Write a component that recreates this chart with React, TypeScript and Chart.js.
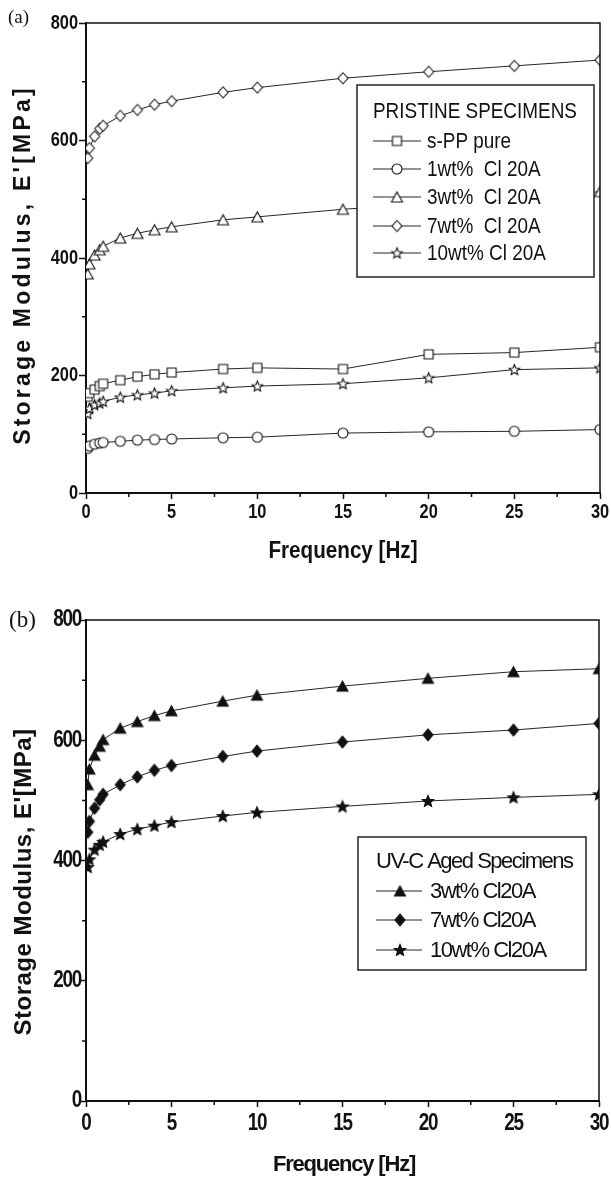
import React, { useEffect, useRef } from 'react';
import { Chart, registerables } from 'chart.js';

Chart.register(...registerables);

// ---------- data ----------
const frequencies = [0.1, 0.2, 0.5, 0.8, 1, 2, 3, 4, 5, 8, 10, 15, 20, 25, 30];

const pristineLabels = ['s-PP pure', '1wt%  Cl 20A', '3wt%  Cl 20A', '7wt%  Cl 20A', '10wt% Cl 20A'];
const pristineSPP = [164, 170, 176, 182, 186, 192, 198, 202, 205, 211, 213, 211, 236, 239, 248];
const pristine1wt = [76, 80, 83, 85, 86, 88, 90, 91, 92, 94, 95, 102, 104, 105, 108];
const pristine3wt = [373, 390, 405, 414, 420, 434, 442, 448, 453, 465, 470, 483, 492, 500, 513];
const pristine7wt = [570, 587, 607, 620, 625, 642, 652, 661, 667, 682, 690, 706, 717, 727, 737];
const pristine10wt = [135, 144, 150, 153, 156, 163, 167, 170, 174, 179, 182, 186, 196, 210, 213];

const agedLabels = ['3wt% Cl20A', '7wt% Cl20A', '10wt% Cl20A'];
const aged3wt = [526, 552, 575, 590, 601, 620, 631, 641, 649, 665, 675, 690, 703, 714, 719];
const aged7wt = [447, 465, 487, 501, 510, 526, 539, 550, 558, 573, 582, 597, 609, 617, 628];
const aged10wt = [389, 402, 418, 426, 431, 444, 452, 458, 464, 474, 480, 490, 499, 505, 510];

const xMin = 0;
const xMax = 30;
const xStep = 5;
const yMin = 0;
const yMax = 800;
const yStep = 200;
const xMinorTicks = [2.5, 7.5, 12.5, 17.5, 22.5, 27.5];
const yMinorTicks = [100, 300, 500, 700];

const xTitle = 'Frequency [Hz]';
const yTitle = "Storage Modulus, E'[MPa]";
const pristineTitle = 'PRISTINE SPECIMENS';
const agedTitle = 'UV-C Aged Specimens';

// ---------- helpers ----------
type Shape = 'square' | 'circle' | 'triangle' | 'diamond' | 'star';

function makeMarker(shape: Shape, filled: boolean, w: number, h: number): HTMLCanvasElement {
  const pad = 2;
  const c = document.createElement('canvas');
  c.width = Math.ceil(w + pad * 2);
  c.height = Math.ceil(h + pad * 2);
  const ctx = c.getContext('2d')!;
  const cx = c.width / 2;
  const cy = c.height / 2;
  ctx.beginPath();
  if (shape === 'square') {
    ctx.rect(cx - w / 2, cy - h / 2, w, h);
  } else if (shape === 'circle') {
    ctx.ellipse(cx, cy, w / 2, h / 2, 0, 0, Math.PI * 2);
  } else if (shape === 'triangle') {
    ctx.moveTo(cx, cy - h / 2);
    ctx.lineTo(cx + w / 2, cy + h / 2);
    ctx.lineTo(cx - w / 2, cy + h / 2);
    ctx.closePath();
  } else if (shape === 'diamond') {
    ctx.moveTo(cx, cy - h / 2);
    ctx.lineTo(cx + w / 2, cy);
    ctx.lineTo(cx, cy + h / 2);
    ctx.lineTo(cx - w / 2, cy);
    ctx.closePath();
  } else {
    const R = w / 2;
    const r = R * 0.45;
    for (let i = 0; i < 10; i++) {
      const ang = -Math.PI / 2 + (i * Math.PI) / 5;
      const rr = i % 2 === 0 ? R : r;
      const px = cx + rr * Math.cos(ang);
      const py = cy + 0.5 + rr * Math.sin(ang);
      if (i === 0) ctx.moveTo(px, py);
      else ctx.lineTo(px, py);
    }
    ctx.closePath();
  }
  ctx.fillStyle = filled ? '#111' : '#fff';
  ctx.fill();
  ctx.lineWidth = 1.1;
  ctx.strokeStyle = '#111';
  ctx.stroke();
  return c;
}

interface TextStyle {
  font: string;
  sx: number;
  spacing: string;
}

function drawText(
  ctx: CanvasRenderingContext2D,
  text: string,
  x: number,
  y: number,
  st: TextStyle,
  align: CanvasTextAlign,
  rotate = false
) {
  ctx.save();
  ctx.translate(x, y);
  if (rotate) ctx.rotate(-Math.PI / 2);
  ctx.scale(st.sx, 1);
  ctx.font = st.font;
  (ctx as any).letterSpacing = st.spacing;
  ctx.textAlign = align;
  ctx.textBaseline = 'middle';
  ctx.fillStyle = '#111';
  ctx.fillText(text, 0, 0);
  ctx.restore();
}

interface LegendSpec {
  box: [number, number, number, number];
  title: string;
  titleX: number;
  titleY: number;
  rows: number[];
  lineX: [number, number];
  markerX: number;
  textX: number;
  text: TextStyle;
}

interface PanelSpec {
  height: number;
  top: number;
  bottom: number;
  left: number;
  right: number;
  tickText: TextStyle;
  xTickY: number;
  yTickX: number;
  datasets: any[];
  legend: LegendSpec;
  panelLabel: { text: string; x: number; y: number; style: TextStyle };
  yTitleSpec: { x: number; y: number; style: TextStyle };
  xTitleSpec: { x: number; y: number; style: TextStyle };
}

function makeDataset(label: string, values: number[], marker: HTMLCanvasElement) {
  return {
    label,
    data: frequencies.map((f, i) => ({ x: f, y: values[i] })),
    borderColor: '#262626',
    borderWidth: 1,
    pointStyle: marker,
    pointRadius: 5,
    pointHoverRadius: 5,
    tension: 0,
    fill: false,
    showLine: true,
  };
}

function buildConfig(p: PanelSpec): any {
  const W = 611;
  const decor = {
    id: 'decor',
    afterDatasetsDraw(chart: any) {
      const ctx: CanvasRenderingContext2D = chart.ctx;
      const L = p.legend;
      ctx.save();
      ctx.fillStyle = '#fff';
      ctx.fillRect(L.box[0], L.box[1], L.box[2] - L.box[0], L.box[3] - L.box[1]);
      ctx.strokeStyle = '#222';
      ctx.lineWidth = 1.5;
      ctx.strokeRect(L.box[0], L.box[1], L.box[2] - L.box[0], L.box[3] - L.box[1]);
      drawText(ctx, L.title, L.titleX, L.titleY, L.text, 'left');
      chart.data.datasets.forEach((ds: any, i: number) => {
        const y = L.rows[i];
        ctx.beginPath();
        ctx.strokeStyle = '#262626';
        ctx.lineWidth = 1;
        ctx.moveTo(L.lineX[0], y);
        ctx.lineTo(L.lineX[1], y);
        ctx.stroke();
        const m: HTMLCanvasElement = ds.pointStyle;
        ctx.drawImage(m, L.markerX - m.width / 2, y - m.height / 2);
        drawText(ctx, ds.label, L.textX, y + 1, L.text, 'left');
      });
      ctx.restore();
    },
    afterDraw(chart: any) {
      const ctx: CanvasRenderingContext2D = chart.ctx;
      const area = chart.chartArea;
      const xs = chart.scales.x;
      const ys = chart.scales.y;
      ctx.save();
      ctx.strokeStyle = '#111';
      ctx.lineWidth = 1.5;
      ctx.beginPath();
      ctx.moveTo(area.left, area.top);
      ctx.lineTo(area.right, area.top);
      ctx.lineTo(area.right, area.bottom);
      ctx.stroke();
      ctx.beginPath();
      xMinorTicks.forEach((v) => {
        const x = xs.getPixelForValue(v);
        ctx.moveTo(x, area.bottom);
        ctx.lineTo(x, area.bottom + 4);
      });
      yMinorTicks.forEach((v) => {
        const y = ys.getPixelForValue(v);
        ctx.moveTo(area.left, y);
        ctx.lineTo(area.left - 4, y);
      });
      ctx.stroke();
      ctx.restore();
      xs.ticks.forEach((t: any) => {
        drawText(ctx, String(t.value), xs.getPixelForValue(t.value), p.xTickY, p.tickText, 'center');
      });
      ys.ticks.forEach((t: any) => {
        drawText(ctx, String(t.value), p.yTickX, ys.getPixelForValue(t.value), p.tickText, 'right');
      });
      drawText(ctx, p.panelLabel.text, p.panelLabel.x, p.panelLabel.y, p.panelLabel.style, 'left');
      drawText(ctx, xTitle, p.xTitleSpec.x, p.xTitleSpec.y, p.xTitleSpec.style, 'center');
      drawText(ctx, yTitle, p.yTitleSpec.x, p.yTitleSpec.y, p.yTitleSpec.style, 'center', true);
    },
  };

  const hidden = 'rgba(0,0,0,0)';
  return {
    type: 'line',
    data: { datasets: p.datasets },
    options: {
      animation: false,
      responsive: false,
      devicePixelRatio: 1,
      events: [],
      layout: { padding: { top: p.top, right: W - p.right, left: 0, bottom: 0 } },
      plugins: { legend: { display: false }, tooltip: { enabled: false }, title: { display: false } },
      scales: {
        x: {
          type: 'linear',
          min: xMin,
          max: xMax,
          afterFit: (s: any) => {
            s.height = p.height - p.bottom;
          },
          ticks: { stepSize: xStep, color: hidden, padding: 2, maxRotation: 0, autoSkip: false, font: { size: 12 } },
          grid: { display: true, drawOnChartArea: false, drawTicks: true, tickLength: 6, color: '#111', tickWidth: 1.5 },
          border: { display: true, color: '#111', width: 2 },
        },
        y: {
          type: 'linear',
          min: yMin,
          max: yMax,
          afterFit: (s: any) => {
            s.width = p.left;
          },
          ticks: { stepSize: yStep, color: hidden, padding: 2, autoSkip: false, font: { size: 12 } },
          grid: { display: true, drawOnChartArea: false, drawTicks: true, tickLength: 7, color: '#111', tickWidth: 1.5 },
          border: { display: true, color: '#111', width: 2 },
        },
      },
    },
    plugins: [decor],
  };
}

const SANS = '"Liberation Sans", Arial, sans-serif';
const SERIF = '"Liberation Serif", "Times New Roman", serif';

function configA() {
  const mSquare = makeMarker('square', false, 9, 9);
  const mCircle = makeMarker('circle', false, 10, 10);
  const mTri = makeMarker('triangle', false, 11, 10);
  const mDia = makeMarker('diamond', false, 10, 11);
  const mStar = makeMarker('star', false, 11, 11);
  const datasets = [
    makeDataset(pristineLabels[0], pristineSPP, mSquare),
    makeDataset(pristineLabels[1], pristine1wt, mCircle),
    makeDataset(pristineLabels[2], pristine3wt, mTri),
    makeDataset(pristineLabels[3], pristine7wt, mDia),
    makeDataset(pristineLabels[4], pristine10wt, mStar),
  ];
  return buildConfig({
    height: 580,
    top: 23,
    bottom: 493,
    left: 86,
    right: 600,
    tickText: { font: `bold 21px ${SANS}`, sx: 0.78, spacing: '0px' },
    xTickY: 512,
    yTickX: 78,
    datasets,
    legend: {
      box: [357, 85, 594, 277],
      title: pristineTitle,
      titleX: 373,
      titleY: 112,
      rows: [141, 169, 197, 226, 253],
      lineX: [373, 421],
      markerX: 397,
      textX: 427,
      text: { font: `22px ${SANS}`, sx: 0.86, spacing: '0px' },
    },
    panelLabel: { text: '(a)', x: 8, y: 18, style: { font: `19px ${SERIF}`, sx: 1, spacing: '0px' } },
    yTitleSpec: { x: 24, y: 265, style: { font: `bold 23px ${SANS}`, sx: 1, spacing: '3.2px' } },
    xTitleSpec: { x: 343, y: 551, style: { font: `bold 24px ${SANS}`, sx: 0.86, spacing: '0px' } },
  });
}

function configB() {
  const mTri = makeMarker('triangle', true, 11, 10);
  const mDia = makeMarker('diamond', true, 10, 12);
  const mStar = makeMarker('star', true, 12, 12);
  const datasets = [
    makeDataset(agedLabels[0], aged3wt, mTri),
    makeDataset(agedLabels[1], aged7wt, mDia),
    makeDataset(agedLabels[2], aged10wt, mStar),
  ];
  return buildConfig({
    height: 601,
    top: 40,
    bottom: 521,
    left: 86,
    right: 599,
    tickText: { font: `bold 23px ${SANS}`, sx: 0.82, spacing: '-1.5px' },
    xTickY: 544,
    yTickX: 81,
    datasets,
    legend: {
      box: [358, 257, 586, 390],
      title: agedTitle,
      titleX: 376,
      titleY: 282,
      rows: [311, 340, 370],
      lineX: [376, 422],
      markerX: 400,
      textX: 430,
      text: { font: `22px ${SANS}`, sx: 1, spacing: '-1.5px' },
    },
    panelLabel: { text: '(b)', x: 9, y: 41, style: { font: `23px ${SERIF}`, sx: 1, spacing: '0px' } },
    yTitleSpec: { x: 24, y: 302, style: { font: `bold 24px ${SANS}`, sx: 1, spacing: '0.5px' } },
    xTitleSpec: { x: 344, y: 585, style: { font: `bold 22px ${SANS}`, sx: 1, spacing: '-1.2px' } },
  });
}

export default function App() {
  const refA = useRef<HTMLCanvasElement>(null);
  const refB = useRef<HTMLCanvasElement>(null);
  useEffect(() => {
    const a = new Chart(refA.current!, configA());
    const b = new Chart(refB.current!, configB());
    return () => {
      a.destroy();
      b.destroy();
    };
  }, []);
  return (
    <div style={{ position: 'absolute', left: 0, top: 0, width: 611, height: 1181, background: '#fff' }}>
      <canvas ref={refA} width={611} height={580} style={{ display: 'block', width: 611, height: 580 }} />
      <canvas ref={refB} width={611} height={601} style={{ display: 'block', width: 611, height: 601 }} />
    </div>
  );
}
